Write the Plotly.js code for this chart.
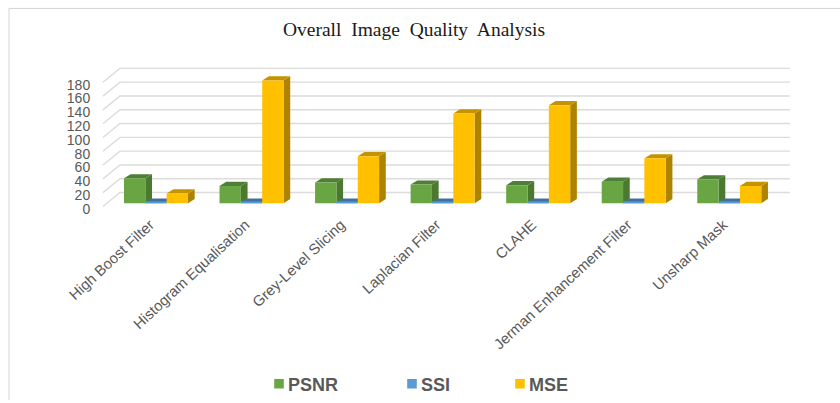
<!DOCTYPE html>
<html>
<head>
<meta charset="utf-8">
<script src="https://cdn.plot.ly/plotly-3.0.1.min.js"></script>
<style>html,body{margin:0;padding:0;background:#fff}#chart{width:840px;height:403px}</style>
</head>
<body>
<div id="chart"></div>
<script>
// Overall image quality metrics per enhancement method
const categories = ["High Boost Filter", "Histogram Equalisation", "Grey-Level Slicing", "Laplacian Filter", "CLAHE", "Jerman Enhancement Filter", "Unsharp Mask"];
const psnr = [36, 25, 30, 27, 26, 31, 34.5];
const ssi = [0.9, 0.9, 0.9, 0.9, 0.9, 0.9, 0.9];
const mse = [14, 178, 68, 130, 142, 65, 25];
const tickValues = [0, 20, 40, 60, 80, 100, 120, 140, 160, 180];

// Oblique projection constants, in axis units
const labelDrop = 3.6;
const barWidth = 0.2233, barDepthX = 0.07, barDepthY = 6, floorLift = 4.8 + labelDrop;
const wallDepthX = 0.178, wallDepthY = 20.2;
const xMin = -0.586, xMax = 6.688, yMin = -2.16, yMax = 216.6;
const wallLeft = -0.555, wallRight = 6.635 - wallDepthX;

// Side and top faces of one series, joined into one filled path
function faces(values, slot) {
  const side = {x: [], y: []}, top = {x: [], y: []};
  values.forEach((v, i) => {
    const x0 = i + (slot - 1.5) * barWidth, x1 = x0 + barWidth;
    const y0 = floorLift, y1 = v + floorLift;
    side.x.push(x1, x1 + barDepthX, x1 + barDepthX, x1, x1, null);
    side.y.push(y0, y0 + barDepthY, y1 + barDepthY, y1, y0, null);
    top.x.push(x0, x0 + barDepthX, x1 + barDepthX, x1, x0, null);
    top.y.push(y1, y1 + barDepthY, y1 + barDepthY, y1, y1, null);
  });
  return {side, top};
}
function poly(path, color) {
  return {type: "scatter", mode: "lines", x: path.x, y: path.y, fill: "toself", fillcolor: color,
          line: {width: 0, color: color}, showlegend: false, hoverinfo: "skip", xaxis: "x", yaxis: "y"};
}
function front(name, values, color) {
  return {type: "bar", name: name, x: categories.map((_, i) => i), y: values, base: floorLift,
          marker: {color: color, line: {width: 0}}, xaxis: "x2", yaxis: "y2"};
}

// Wall gridlines: short run along the side wall, long run along the back wall
const gridX = [], gridY = [];
tickValues.forEach(v => {
  gridX.push(wallLeft, wallLeft + wallDepthX, wallRight + wallDepthX, null);
  gridY.push(v + labelDrop, v + labelDrop + wallDepthY, v + labelDrop + wallDepthY, null);
});

const seriesFaces = [
  [faces(psnr, 0), "#4a7a30", "#4f7f36"],
  [faces(ssi, 1), "#3f6a98", "#41709f"],
  [faces(mse, 2), "#ad8300", "#c49400"]
];
const traces = [{type: "scatter", mode: "lines", x: gridX, y: gridY, line: {color: "#dcdcdc", width: 1.4},
                 showlegend: false, hoverinfo: "skip", xaxis: "x", yaxis: "y"}];
seriesFaces.forEach(([f, sideColor, topColor]) => {
  traces.push(poly(f.side, sideColor), poly(f.top, topColor));
});
traces.push(front("PSNR", psnr, "#6aa544"), front("SSI", ssi, "#5b9bd5"), front("MSE", mse, "#ffc000"));

// Plot region given in page pixels
const W = 840, H = 403, plotL = 100, plotR = 795, plotT = 60, plotB = 212;
const paperX = px => px / W;
const paperY = py => 1 - py / H;
const domX = [paperX(plotL), paperX(plotR)], domY = [paperY(plotB), paperY(plotT)];
const textGray = "#595959";

const layout = {
  width: W, height: H, paper_bgcolor: "#fff", plot_bgcolor: "rgba(0,0,0,0)",
  margin: {l: 0, r: 0, t: 0, b: 0, pad: 0},
  barmode: "group", bargap: 0.33, bargroupgap: 0,
  title: {text: "Overall\u00A0 Image\u00A0 Quality\u00A0 Analysis", font: {family: "Liberation Serif", size: 19.5, color: "#1a1a1a"},
          x: 414 / W, xanchor: "center", y: 1 - 29 / H, yanchor: "middle"},
  xaxis: {domain: domX, range: [xMin, xMax], tickmode: "array", tickvals: categories.map((_, i) => i), ticktext: categories,
          tickangle: -43, showgrid: false, zeroline: false, showline: false, ticks: "",
          ticklabelstandoff: 2, ticklabelshift: -6,
          tickfont: {family: "Liberation Sans", size: 14.8, color: textGray}},
  yaxis: {domain: domY, range: [yMin, yMax], tickmode: "array", tickvals: tickValues, showgrid: false, zeroline: false, showline: false,
          ticks: "outside", ticklen: 6, tickcolor: "rgba(0,0,0,0)", tickfont: {family: "Liberation Sans", size: 14, color: textGray}},
  xaxis2: {domain: domX, range: [xMin, xMax], overlaying: "x", visible: false},
  yaxis2: {domain: domY, range: [yMin, yMax], overlaying: "y", visible: false},
  legend: {orientation: "h", x: paperX(248), xanchor: "left", y: paperY(387), yanchor: "middle",
           entrywidth: 88, entrywidthmode: "pixels", itemclick: false,
           font: {family: "Liberation Sans", size: 18, color: textGray, weight: 700}},
  shapes: [
    {type: "line", xref: "paper", yref: "paper", x0: paperX(9), x1: 1, y0: paperY(8.5), y1: paperY(8.5), line: {color: "#d4d4d4", width: 1}, layer: "below"},
    {type: "line", xref: "paper", yref: "paper", x0: paperX(9), x1: paperX(9), y0: paperY(8.5), y1: 0, line: {color: "#d4d4d4", width: 1}, layer: "below"}
  ],
  showlegend: true
};
Plotly.newPlot("chart", traces, layout, {displayModeBar: false, responsive: false}).then(gd => {
  // Smaller swatches near their labels, and a tighter slot for the last legend entry
  gd.querySelectorAll(".legend .legendpoints").forEach(g => g.setAttribute("transform", "translate(15,0) scale(0.8)"));
  const entries = gd.querySelectorAll(".legend .traces");
  const last = entries[entries.length - 1];
  const m = /translate\(([-\d.]+),\s*([-\d.]+)\)/.exec(last.getAttribute("transform"));
  if (m) last.setAttribute("transform", `translate(${parseFloat(m[1]) - 25},${m[2]})`);
});
</script>
</body>
</html>
